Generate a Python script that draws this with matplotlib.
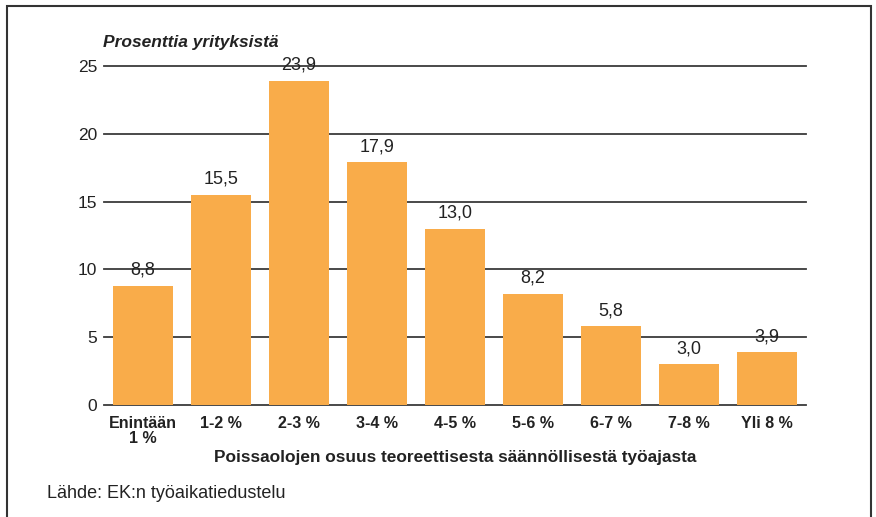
import matplotlib.pyplot as plt
from matplotlib.patches import Rectangle

plt.rcParams['font.family'] = ['Liberation Sans', 'DejaVu Sans']

# Poissaolojen osuus -luokat ja yritysten osuudet (%)
luokat = ["Enintään\n1 %", "1-2 %", "2-3 %", "3-4 %", "4-5 %",
          "5-6 %", "6-7 %", "7-8 %", "Yli 8 %"]
osuudet = [8.8, 15.5, 23.9, 17.9, 13.0, 8.2, 5.8, 3.0, 3.9]
y_ticks = [0, 5, 10, 15, 20, 25]

fig = plt.figure(figsize=(8.76, 5.17), dpi=100)
ax = fig.add_axes([104 / 876, 1 - 405 / 517, 702 / 876, 339 / 517])

x = range(len(luokat))
ax.bar(x, osuudet, width=0.77, color='#F9AC4A', zorder=2)

# arvot pylväiden päälle
for xi, v in zip(x, osuudet):
    ax.annotate(f"{v:.1f}".replace('.', ','), (xi, v), xytext=(0, 5),
                textcoords='offset points', ha='center', va='bottom',
                fontsize=13, color='#222222', zorder=3)

ax.set_xlim(-0.5, 8.5)
ax.set_ylim(0, 25)
ax.set_yticks(y_ticks)
ax.set_yticklabels([str(t) for t in y_ticks], fontsize=12.5, color='#222222')
ax.set_xticks(list(x))
ax.set_xticklabels(luokat, fontsize=11.5, fontweight='bold', color='#222222',
                   linespacing=1.0)
ax.tick_params(axis='both', length=0)
ax.tick_params(axis='y', pad=5)
ax.tick_params(axis='x', pad=8)

for t in y_ticks:
    ax.axhline(t, color='#3a3a3a', lw=1.3, zorder=1, clip_on=False)
for s in ax.spines.values():
    s.set_visible(False)

ax.set_xlabel("Poissaolojen osuus teoreettisesta säännöllisestä työajasta",
              fontsize=12.4, fontweight='bold', color='#222222', labelpad=3)

fig.text(103 / 876, 1 - 43 / 517, "Prosenttia yrityksistä", fontsize=12.5,
         fontweight='bold', style='italic', color='#222222', va='center')
fig.text(47 / 876, 1 - 493 / 517, "Lähde: EK:n työaikatiedustelu", fontsize=13,
         color='#222222', va='center')

# kehys
fig.patches.append(Rectangle((7 / 876, -0.05), 864 / 876, 1.05 - 6 / 517,
                             transform=fig.transFigure, fill=False,
                             edgecolor='#333333', lw=1.5))

fig.savefig("out.png", dpi=100)
